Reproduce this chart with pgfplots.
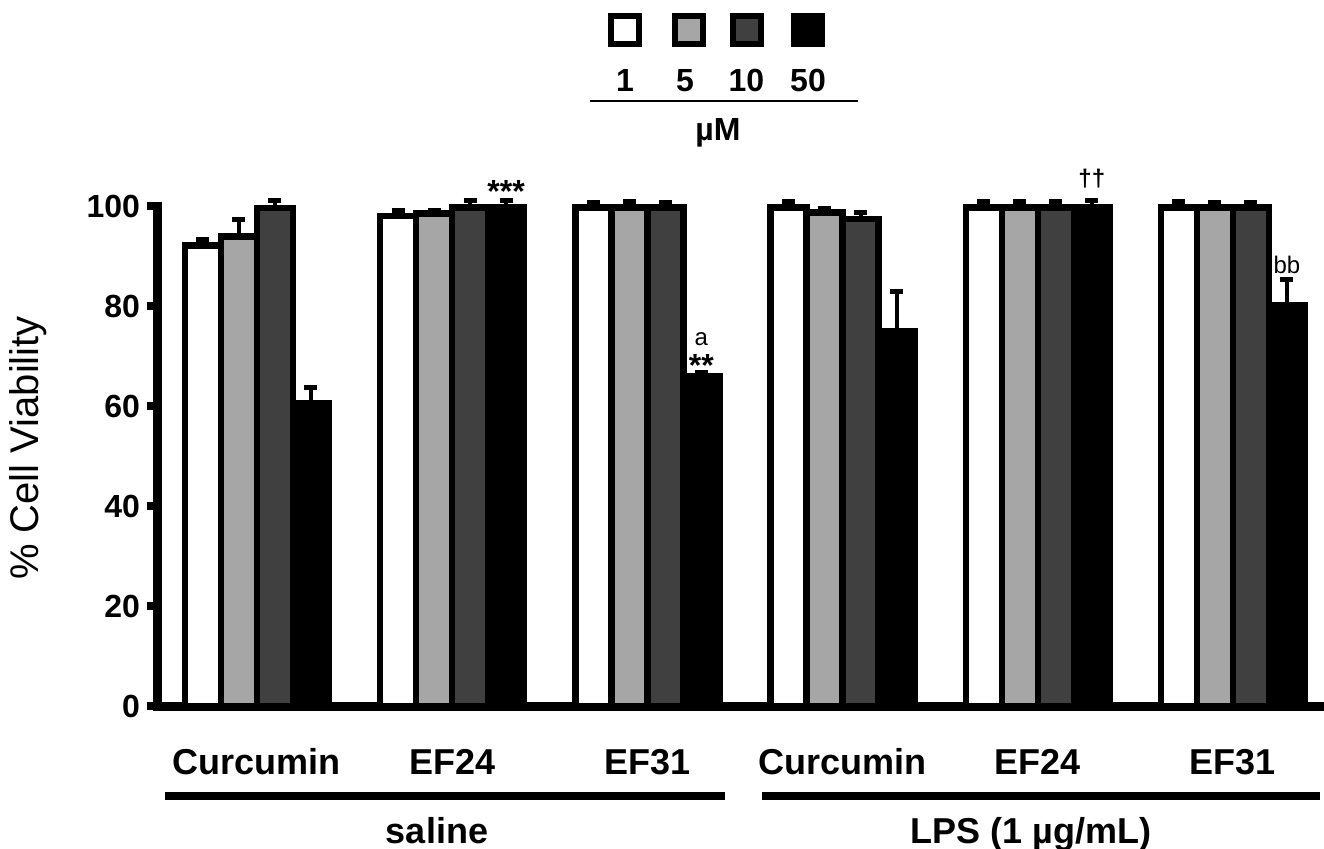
\documentclass[border=0pt]{standalone}
\usepackage{fontspec}
\setmainfont{Liberation Sans}
\usepackage{pgfplots}
\pgfplotsset{compat=1.18}
\definecolor{lgray}{HTML}{A6A6A6}
\definecolor{dgray}{HTML}{404040}
\begin{document}
\begin{tikzpicture}[font=\bfseries]
\useasboundingbox (-79pt,-71pt) rectangle (583pt,353pt);
\begin{axis}[
  at={(0pt,0pt)}, anchor=south west,
  scale only axis, width=582pt, height=250pt,
  xmin=-0.507, xmax=5.456, ymin=0, ymax=100,
  axis x line*=bottom, axis y line*=left,
  axis line style={line width=4.5pt, line cap=rect, black},
  ytick={0,20,...,100}, xtick={0,...,5},
  xticklabels={Curcumin,EF24,EF31,Curcumin,EF24,EF31},
  tick align=outside, major tick length=5.5pt,
  ytick style={line width=4pt, black},
  xtick style={draw=none},
  /pgf/number format/assume math mode=true,
  yticklabel style={font=\fontsize{16}{19}\selectfont\bfseries},
  xticklabel style={font=\fontsize{18}{21}\selectfont\bfseries, anchor=base, yshift=-28.5pt},
  ylabel={\% Cell Viability},
  every axis y label/.style={at={(axis description cs:-0.1117,0.516)}, rotate=90, anchor=center, font=\fontsize{20}{24}\selectfont\mdseries},
  ybar=0pt, bar width=18pt,
  clip=false,
  error bars/y dir=plus, error bars/y explicit,
  error bars/error bar style={line width=2pt, black},
  error bars/error mark options={rotate=90, line width=2.5pt, mark size=3.25pt, black},
]
\addplot[fill=white, draw=black, line width=3.2pt] coordinates {
  (0,92.1) +- (0,1.2) (1,98.0) +- (0,1.1) (2,99.7) +- (0,1.0)
  (3,99.7) +- (0,1.3) (4,99.7) +- (0,1.3) (5,99.7) +- (0,1.3)};
\addplot[fill=lgray, draw=black, line width=3.2pt] coordinates {
  (0,93.9) +- (0,3.4) (1,98.5) +- (0,0.6) (2,99.7) +- (0,1.3)
  (3,98.7) +- (0,0.9) (4,99.7) +- (0,1.3) (5,99.7) +- (0,1.1)};
\addplot[fill=dgray, draw=black, line width=3.2pt] coordinates {
  (0,99.6) +- (0,1.5) (1,99.7) +- (0,1.4) (2,99.7) +- (0,1.0)
  (3,97.4) +- (0,1.3) (4,99.7) +- (0,1.2) (5,99.7) +- (0,1.1)};
\addplot[fill=black, draw=black, line width=3.2pt] coordinates {
  (0,60.5) +- (0,3.2) (1,99.7) +- (0,1.5) (2,65.9) +- (0,0.8)
  (3,75.0) +- (0,7.9) (4,99.7) +- (0,1.4) (5,80.2) +- (0,5.1)};
\node[font=\fontsize{16}{19}\selectfont\bfseries, xshift=27pt] at (axis cs:1,103.0) {***};
\node[font=\fontsize{12}{14}\selectfont\mdseries, xshift=27pt] at (axis cs:2,73.4) {a};
\node[font=\fontsize{16}{19}\selectfont\bfseries, xshift=27pt] at (axis cs:2,68.2) {**};
\node[font=\fontsize{12}{14}\selectfont\bfseries, xshift=27pt] at (axis cs:4,105.4) {††};
\node[font=\fontsize{12}{14}\selectfont\mdseries, xshift=27pt] at (axis cs:5,88.2) {bb};
\end{axis}
% group brackets
\draw[line width=4pt] (3.5pt,-45pt) -- (283.5pt,-45pt);
\draw[line width=4pt] (302pt,-45pt) -- (581pt,-45pt);
\node[font=\fontsize{18}{21}\selectfont\bfseries, anchor=base] at (139.5pt,-68.5pt) {saline};
\node[font=\fontsize{18}{21}\selectfont\bfseries, anchor=base] at (436.5pt,-68.5pt) {LPS (1 µg/mL)};
% legend
\draw[line width=3pt, fill=white] (226.5pt,330.75pt) rectangle ++(14pt,14pt);
\draw[line width=3pt, fill=lgray] (258.25pt,330.75pt) rectangle ++(14pt,14pt);
\draw[line width=3pt, fill=dgray] (287.25pt,330.75pt) rectangle ++(14pt,14pt);
\draw[line width=3pt, fill=black] (317.75pt,330.75pt) rectangle ++(14pt,14pt);
\node[font=\fontsize{16}{19}\selectfont\bfseries, anchor=base] at (233.5pt,307pt) {1};
\node[font=\fontsize{16}{19}\selectfont\bfseries, anchor=base] at (263.5pt,307pt) {5};
\node[font=\fontsize{16}{19}\selectfont\bfseries, anchor=base] at (294.25pt,307pt) {10};
\node[font=\fontsize{16}{19}\selectfont\bfseries, anchor=base] at (325pt,307pt) {50};
\draw[line width=1pt] (216pt,302.5pt) -- (350pt,302.5pt);
\node[font=\fontsize{16}{19}\selectfont\bfseries, anchor=base] at (280pt,283pt) {µM};
\end{tikzpicture}
\end{document}
